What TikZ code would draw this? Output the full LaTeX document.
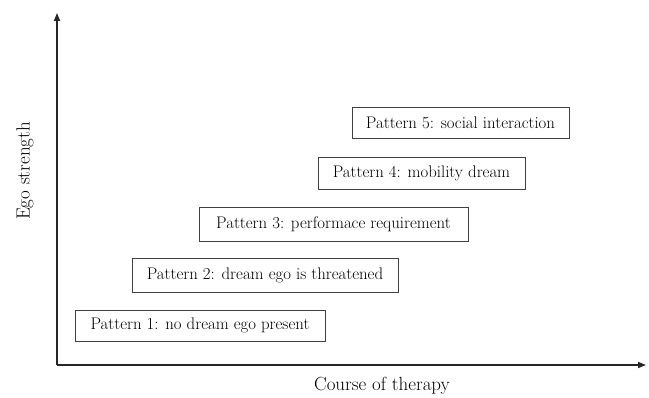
\documentclass[tikz,border=0pt]{standalone}
\usetikzlibrary{arrows.meta}
\begin{document}
\begin{tikzpicture}[x=1pt,y=-1pt,
  axis/.style={line width=1.6pt,draw=black!85,-{Triangle[length=8pt,width=6pt]}},
  pbox/.style={draw=black!75,line width=0.9pt,inner sep=0pt,font=\fontsize{16.8}{19}\selectfont},
  lab/.style={font=\fontsize{19}{22}\selectfont}]
\useasboundingbox (0,0) rectangle (649,398);
\coordinate (o) at (57,365);
\coordinate (ytip) at (57,13);
\coordinate (xtip) at (646,365);
\draw[axis] (o) -- (ytip);
\draw[axis] (o) -- (xtip);
\node[lab] (xl) at (382,386) {Course of therapy};
\node[lab,rotate=90] (yl) at (25,171) {Ego strength};
\node[pbox,minimum width=250pt,minimum height=31pt] (p1) at (200,325.5) {Pattern 1: no dream ego present};
\node[pbox,minimum width=266pt,minimum height=34pt] (p2) at (265,275) {Pattern 2: dream ego is threatened};
\node[pbox,minimum width=269pt,minimum height=34pt] (p3) at (333.5,224) {Pattern 3: performace requirement};
\node[pbox,minimum width=207pt,minimum height=32pt] (p4) at (421.5,173) {Pattern 4: mobility dream};
\node[pbox,minimum width=217pt,minimum height=31pt] (p5) at (460.5,122.5) {Pattern 5: social interaction};
\end{tikzpicture}
\end{document}
